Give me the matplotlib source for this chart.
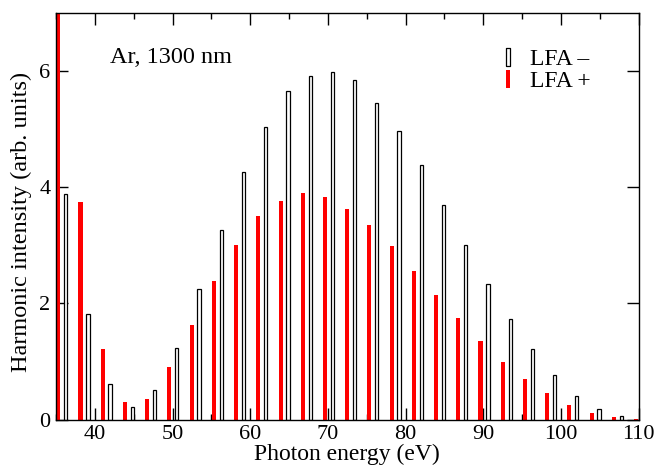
import matplotlib
matplotlib.use("Agg")
import matplotlib.pyplot as plt
from matplotlib.lines import Line2D
from matplotlib.ticker import MultipleLocator

plt.rcParams['font.family'] = ['Liberation Serif', 'DejaVu Serif']

# harmonic photon energies (eV) and intensities (arb. units)
e_minus = [36.24, 39.10, 41.96, 44.82, 47.68, 50.54, 53.40, 56.27, 59.13, 61.99,
           64.85, 67.71, 70.57, 73.43, 76.29, 79.15, 82.01, 84.87, 87.73, 90.60,
           93.46, 96.32, 99.18, 102.04, 104.90, 107.77]
i_minus = [3.88, 1.82, 0.61, 0.22, 0.51, 1.24, 2.24, 3.26, 4.27, 5.03,
           5.66, 5.91, 5.98, 5.84, 5.45, 4.96, 4.38, 3.69, 3.00, 2.33,
           1.73, 1.21, 0.76, 0.40, 0.18, 0.055]

e_plus = [35.29, 38.15, 41.01, 43.87, 46.73, 49.59, 52.45, 55.31, 58.17, 61.04,
          63.90, 66.76, 69.62, 72.48, 75.34, 78.20, 81.06, 83.92, 86.78, 89.64,
          92.50, 95.36, 98.22, 101.08, 103.94, 106.80, 109.66]
i_plus = [8.0, 3.74, 1.21, 0.31, 0.36, 0.90, 1.63, 2.39, 3.00, 3.51,
          3.77, 3.90, 3.83, 3.63, 3.35, 2.98, 2.56, 2.15, 1.74, 1.35,
          0.99, 0.70, 0.45, 0.25, 0.12, 0.04, 0.015]

fig = plt.figure(figsize=(6.56, 4.70), dpi=100)
ax = fig.add_axes([0.0854, 0.1074, 0.8882, 0.8649])

ax.bar(e_plus, i_plus, width=0.52, color='red', linewidth=0, zorder=2)
ax.bar(e_minus, i_minus, width=0.42, facecolor='white', edgecolor='black',
       linewidth=0.9, zorder=2)

ax.set_xlim(35, 110)
ax.set_ylim(0, 7)
ax.xaxis.set_major_locator(MultipleLocator(10))
ax.xaxis.set_minor_locator(MultipleLocator(5))
ax.yaxis.set_major_locator(MultipleLocator(2))
ax.tick_params(which='both', direction='in', top=True, right=True,
               labelsize=16, pad=4)
ax.tick_params(which='major', length=8.5, width=1)
ax.tick_params(which='minor', length=4, width=1)
for s in ax.spines.values():
    s.set_linewidth(1.0)

ax.set_xlabel('Photon energy (eV)', fontsize=17, labelpad=0)
ax.set_ylabel('Harmonic intensity (arb. units)', fontsize=17.5)
ax.yaxis.set_label_coords(-0.042, 0.485)

ax.text(0.092, 0.89, 'Ar, 1300 nm', transform=ax.transAxes, fontsize=17.5,
        va='center', ha='left')

bar_marker = [(-0.26, -1), (0.26, -1), (0.26, 1), (-0.26, 1), (-0.26, -1)]
handles = [
    Line2D([], [], linestyle='none', marker=bar_marker, markersize=12.5,
           markerfacecolor='white', markeredgecolor='black', markeredgewidth=0.9),
    Line2D([], [], linestyle='none', marker=bar_marker, markersize=12.5,
           markerfacecolor='red', markeredgecolor='red', markeredgewidth=0),
]
ax.legend(handles, ['LFA \u2013', 'LFA +'], loc='upper left',
          bbox_to_anchor=(0.74, 0.935), frameon=False, fontsize=17,
          handlelength=1.0, handletextpad=0.4, labelspacing=0.0,
          borderaxespad=0)

fig.savefig('out.png', dpi=100)
